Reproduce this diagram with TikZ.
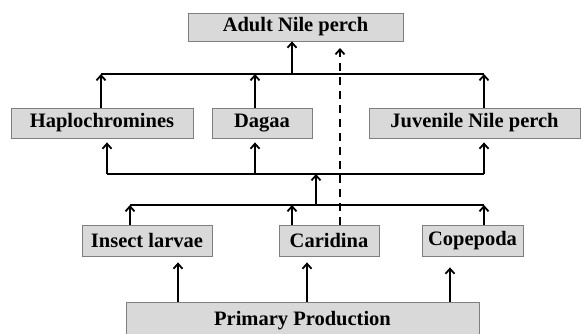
\documentclass[tikz,border=0pt]{standalone}
\usepackage{fontspec}
\setmainfont{Liberation Serif}
\usetikzlibrary{arrows.meta}
\definecolor{boxfill}{HTML}{D9D9D9}
\definecolor{boxline}{HTML}{7F7F7F}
\begin{document}
\begin{tikzpicture}[x=1pt,y=-1pt,
  box/.style={draw=boxline,fill=boxfill,line width=0.8pt,inner sep=0pt,
    font=\fontsize{20.5}{23}\selectfont\bfseries},
  link/.style={line width=1.8pt,black},
  arr/.style={link,-{Straight Barb[length=5pt,width=9pt,line width=1.8pt]}},
  dashlink/.style={arr,dash pattern=on 8pt off 6pt}]
\useasboundingbox (0,0) rectangle (582,333);
\begin{scope}
\clip (0,0) rectangle (582,333);
\node[box,minimum width=215pt,minimum height=28pt] (adult) at (295.5,27) {Adult Nile perch};
\node[box,minimum width=182pt,minimum height=30pt] (haplo) at (102,123) {Haplochromines};
\node[box,minimum width=100pt,minimum height=30pt] (dagaa) at (262,123) {Dagaa};
\node[box,minimum width=211pt,minimum height=30pt] (juv) at (474.5,123) {Juvenile Nile perch};
\node[box,minimum width=130pt,minimum height=31pt] (insect) at (147,240.5) {Insect larvae};
\node[box,minimum width=100pt,minimum height=31pt] (carid) at (329,240.5) {Caridina};
\node[box,minimum width=101pt,minimum height=31pt] (cope) at (472.5,240.5) {Copepoda};
\node[box,minimum width=353pt,minimum height=38pt] (pp) at (302.5,321) {Primary Production};
\end{scope}
% bus coordinates
\coordinate (tbL) at (101,74);
\coordinate (tA) at (292,74);
\coordinate (tD) at (255,74);
\coordinate (tbR) at (484,74);
\coordinate (mbL) at (107,174);
\coordinate (mD) at (255,174);
\coordinate (mS) at (316,174);
\coordinate (mbR) at (484,174);
\coordinate (lbL) at (130,205);
\coordinate (lS) at (316,205);
\coordinate (lC) at (292,205);
\coordinate (lbR) at (484,205);
\coordinate (pI) at (178,0);
\coordinate (pC) at (307,0);
\coordinate (pK) at (450,0);
\coordinate (dsh) at (340,48);
% top level
\draw[link] (tbL) -- (tbR);
\draw[arr] (tA) -- (tA |- adult.south);
\draw[arr] (haplo.north -| tbL) -- (tbL);
\draw[arr] (dagaa.north -| tD) -- (tD);
\draw[arr] (juv.north -| tbR) -- (tbR);
% middle level
\draw[link] (mbL) -- (mbR);
\draw[arr] (mbL) -- ([yshift=-4pt]haplo.south -| mbL);
\draw[arr] (mD) -- ([yshift=-4pt]dagaa.south -| mD);
\draw[arr] (mbR) -- ([yshift=-4pt]juv.south -| mbR);
\draw[arr] (lS) -- (mS);
% lower level
\draw[link] (lbL) -- (lbR);
\draw[arr] (insect.north -| lbL) -- (lbL);
\draw[arr] (carid.north -| lC) -- (lC);
\draw[arr] (cope.north -| lbR) -- (lbR);
% primary production
\draw[arr] (pp.north -| pI) -- ([yshift=-6pt]insect.south -| pI);
\draw[arr] (pp.north -| pC) -- ([yshift=-6pt]carid.south -| pC);
\draw[arr] (pp.north -| pK) -- ([yshift=-11pt]cope.south -| pK);
% dashed
\draw[dashlink] (carid.north -| dsh) -- (dsh);
\end{tikzpicture}
\end{document}
